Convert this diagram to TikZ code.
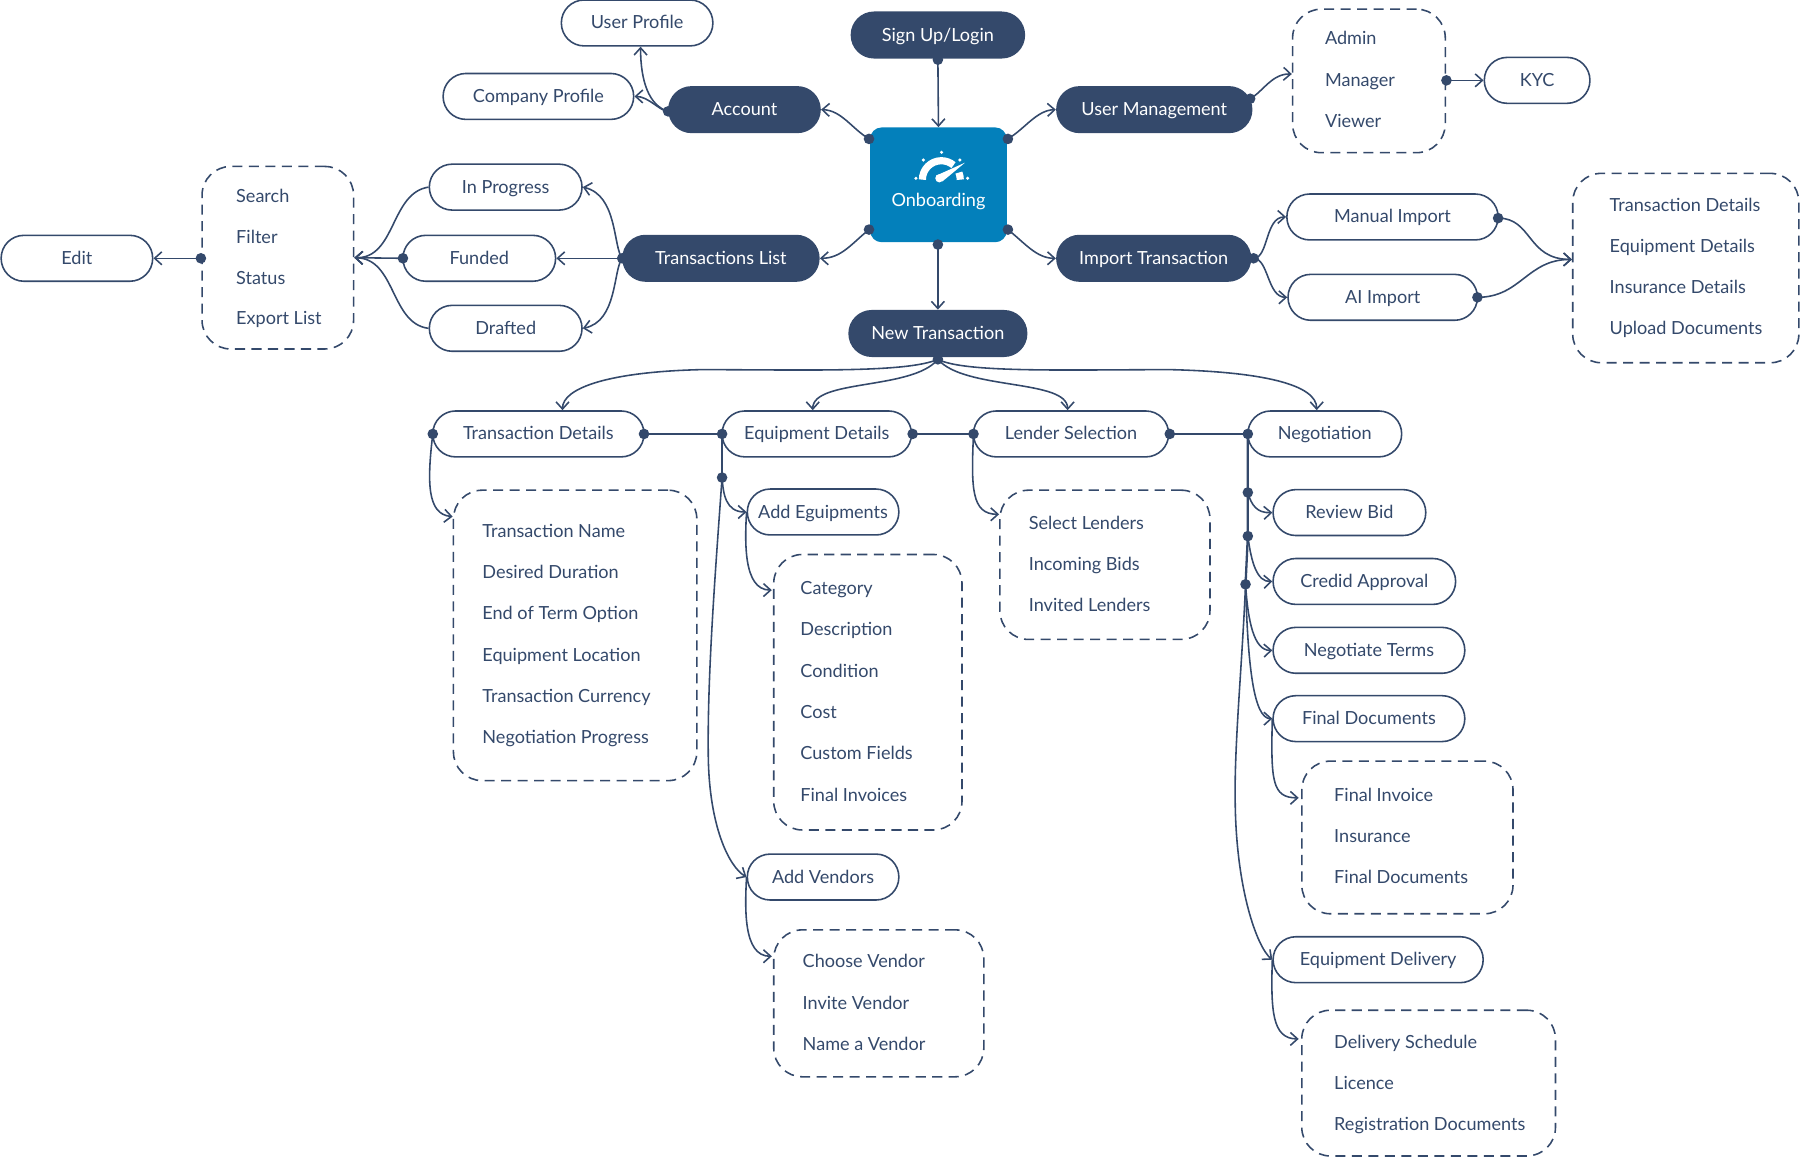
\documentclass[tikz,border=0pt]{standalone}
\usepackage{fontspec}
\setmainfont{Lato}
\usetikzlibrary{arrows.meta}
\definecolor{navy}{HTML}{34496B}
\definecolor{hubblue}{HTML}{0380BB}
\def\u{0.8pt}
\tikzset{
  pilltext/.style={font=\fontsize{12.6}{15}\selectfont,text height=10.4pt,text depth=2pt,inner sep=0pt},
  pill/.style={pilltext,draw=navy,line width=1.1pt,fill=white,rounded corners=15.9pt,minimum height=40*\u,minimum width=#1*\u,text=navy},
  darkpill/.style={pilltext,fill=navy,rounded corners=16.3pt,minimum height=41*\u,minimum width=#1*\u,text=white},
  listbox/.style 2 args={draw=navy,line width=1.1pt,dash pattern=on 7pt off 4.5pt,rounded corners=20pt,minimum width=#1*\u,minimum height=#2*\u,inner sep=0pt},
  item/.style={pilltext,text height=11.6pt,anchor=west,text=navy},
  dot/.style={circle,fill=navy,inner sep=0pt,minimum size=7.4pt},
  flow/.style={draw=navy,line width=1.1pt,-{Straight Barb[length=5pt,width=9pt,line width=1.1pt]}},
  plain/.style={draw=navy,line width=1.1pt},
  trunk/.style={draw=navy,line width=1.6pt}
}
\begin{document}
\begin{tikzpicture}[x=\u,y=-\u]
    \useasboundingbox (0,0) rectangle (1568,1008.7);

    % top part
    \node[darkpill=152] (sign) at (817,30.5) {Sign Up/Login};
    \node[fill=hubblue,rounded corners=8pt,minimum width=119*\u,minimum height=100*\u,inner sep=0pt] (onb) at (817.5,161) {};
    \node[pilltext,text=white] (onbtxt) at (817.5,174.7) {Onboarding};
    \node[darkpill=133] (acct) at (648.5,95.5) {Account};
    \node[darkpill=171] (umgmt) at (1005.5,95.5) {User Management};
    \node[darkpill=172] (tlist) at (628,225) {Transactions List};
    \node[darkpill=170] (imprt) at (1005,225) {Import Transaction};
    \node[darkpill=156] (newtx) at (817,290.5) {New Transaction};

    \node[pill=132] (usrprof) at (555,20) {User Profile};
    \node[pill=166] (comprof) at (469,84) {Company Profile};
    \node[pill=92] (kyc) at (1339,70) {KYC};
    \node[pill=133] (inprog) at (440.5,163) {In Progress};
    \node[pill=133] (funded) at (417.5,225) {Funded};
    \node[pill=133] (drafted) at (440.5,286) {Drafted};
    \node[pill=132] (edit) at (67,225) {Edit};
    \node[pill=184] (manual) at (1213,189) {Manual Import};
    \node[pill=165] (aiimp) at (1204.5,259) {AI Import};

    % gauge icon
    \draw[white,line width=5pt] (803.5,156.5) arc (-180:-50:16.5);
    \draw[white,line width=5pt] (836.5,156.5) arc (0:-22:16.5);
    \fill[white] (815.5,153) -- (840.6,141.7) -- (821,158) -- cycle;
    \fill[white] (818.3,155.3) circle (3.6);
    \foreach \x/\y in {820.2/132.7,804.3/139.4,836.2/139.4,797.9/155.3,842.9/155.3} {
        \fill[white] (\x,\y) circle (1.5);
    }

    % dashed lists
    \node[listbox={133}{125}] (usrbox) at (1192.5,70.5) {};
    \foreach \t [count=\k] in {Admin,Manager,Viewer} {
        \node[item] (usr\k) at (1154,33+36*\k-36) {\t};
    }
    \node[listbox={132}{159}] (srcbox) at (242,224.5) {};
    \foreach \t [count=\k] in {Search,Filter,Status,Export List} {
        \node[item] (src\k) at (205.5,170+35.7*\k-35.7) {\t};
    }
    \node[listbox={197}{165}] (impbox) at (1468.5,233.5) {};
    \foreach \t [count=\k] in {Transaction Details,Equipment Details,Insurance Details,Upload Documents} {
        \node[item] (imp\k) at (1402,178+35.8*\k-35.8) {\t};
    }

    % transaction row
    \node[pill=184] (txd) at (469,378) {Transaction Details};
    \node[pill=165] (eqd) at (711.5,378) {Equipment Details};
    \node[pill=170] (lnd) at (933,378) {Lender Selection};
    \node[pill=134] (neg) at (1154,378) {Negotiation};

    \node[pill=132] (addeq) at (717,446) {Add Eguipments};
    \node[pill=132] (addven) at (717,764) {Add Vendors};
    \node[pill=133] (review) at (1175.5,446.5) {Review Bid};
    \node[pill=159] (credid) at (1188.5,506.5) {Credid Approval};
    \node[pill=167] (negot) at (1192.5,566.5) {Negotiate Terms};
    \node[pill=167] (fdoc) at (1192.5,626) {Final Documents};
    \node[pill=183] (edel) at (1200.5,836) {Equipment Delivery};

    \node[listbox={212}{253}] (txbox) at (501,553.5) {};
    \foreach \t [count=\k] in {Transaction Name,Desired Duration,End of Term Option,Equipment Location,Transaction Currency,Negotiation Progress} {
        \node[item] (tx\k) at (420,462+36*\k-36) {\t};
    }
    \node[listbox={164}{240}] (catbox) at (756,603) {};
    \foreach \t [count=\k] in {Category,Description,Condition,Cost,Custom Fields,Final Invoices} {
        \node[item] (cat\k) at (697,512+36*\k-36) {\t};
    }
    \node[listbox={183}{128}] (venbox) at (765.5,874) {};
    \foreach \t [count=\k] in {Choose Vendor,Invite Vendor,Name a Vendor} {
        \node[item] (ven\k) at (699,837+36*\k-36) {\t};
    }
    \node[listbox={183}{130}] (lndbox) at (962.5,492) {};
    \foreach \t [count=\k] in {Select Lenders,Incoming Bids,Invited Lenders} {
        \node[item] (len\k) at (896,455+36*\k-36) {\t};
    }
    \node[listbox={184}{133}] (finbox) at (1226,729.5) {};
    \foreach \t [count=\k] in {Final Invoice,Insurance,Final Documents} {
        \node[item] (fin\k) at (1162,692+36*\k-36) {\t};
    }
    \node[listbox={221}{127}] (delbox) at (1244.5,943.5) {};
    \foreach \t [count=\k] in {Delivery Schedule,Licence,Registration Documents} {
        \node[item] (del\k) at (1162,907+36*\k-36) {\t};
    }

    % dots
    \node[dot] (dsign) at (817,52) {};
    \node[dot] (donw) at (757,121) {};
    \node[dot] (done) at (878,121) {};
    \node[dot] (dosw) at (757,200) {};
    \node[dot] (dose) at (878,200) {};
    \node[dot] (dos) at (817,213) {};
    \node[dot] (dacct) at (582,97) {};
    \node[dot] (dumgmt) at (1089,86) {};
    \node[dot] (dusr) at (1260,70) {};
    \node[dot] (dimp) at (1092,225) {};
    \node[dot] (dman) at (1305,190) {};
    \node[dot] (dai) at (1287,259) {};
    \node[dot] (dtl) at (542,225) {};
    \node[dot] (dfun) at (351,225) {};
    \node[dot] (dsrc) at (175,225) {};
    \node[dot] (dnew) at (817,313) {};
    \node[dot] (dtxw) at (377,378) {};
    \node[dot] (dtxe) at (561,378) {};
    \node[dot] (deqw) at (629,378) {};
    \node[dot] (deqe) at (795,378) {};
    \node[dot] (deqb) at (629,416) {};
    \node[dot] (dlnw) at (848,378) {};
    \node[dot] (dlne) at (1019,378) {};
    \node[dot] (dneg) at (1087,378) {};
    \node[dot] (dr1) at (1087,429) {};
    \node[dot] (dr2) at (1087,467) {};
    \node[dot] (dr3) at (1085,509) {};

    % connectors, top
    \draw[flow] (dsign.center) -- (onb.north);
    \draw[flow] (dos.center) -- (newtx.north);
    \draw[flow] (donw.center) .. controls (742,112) and (733,96) .. (acct.east);
    \draw[flow] (done.center) .. controls (893,112) and (903,96) .. (umgmt.west);
    \draw[flow] (dosw.center) .. controls (742,212) and (733,225) .. (tlist.east);
    \draw[flow] (dose.center) .. controls (893,212) and (903,225) .. (imprt.west);
    \draw[flow] (dacct.center) .. controls (565,92) and (558,70) .. ([shift={(3,0)}]usrprof.south);
    \draw[flow] (dacct.center) .. controls (575,97) and (565,84) .. (comprof.east);
    \draw[flow] (dumgmt.center) .. controls (1100,80) and (1108,64) .. ([shift={(0,-6)}]usrbox.west);
    \draw[flow] (dusr.center) -- (kyc.west);
    \draw[flow] (dimp.center) .. controls (1105,225) and (1102,189) .. (manual.west);
    \draw[flow] (dimp.center) .. controls (1105,225) and (1104,259) .. (aiimp.west);
    \draw[flow] (dman.center) .. controls (1335,190) and (1330,226) .. ([shift={(0,-7.5)}]impbox.west);
    \draw[flow] (dai.center) .. controls (1325,259) and (1330,226) .. ([shift={(0,-7.5)}]impbox.west);
    \draw[flow] (dtl.center) .. controls (534,215) and (538,170) .. (inprog.east);
    \draw[flow] (dtl.center) -- (funded.east);
    \draw[flow] (dtl.center) .. controls (534,235) and (538,280) .. (drafted.east);
    \draw[flow] (dfun.center) -- (srcbox.east);
    \draw[flow] (inprog.west) .. controls (340,168) and (345,225) .. (srcbox.east);
    \draw[flow] (drafted.west) .. controls (340,282) and (345,225) .. (srcbox.east);
    \draw[flow] (dsrc.center) -- (edit.east);

    % connectors, new transaction
    \draw[flow] (dnew.center) .. controls (790,325) and (700,322) .. (610,322) .. controls (530,324) and (490,338) .. ([shift={(21,0)}]txd.north);
    \draw[flow] (dnew.center) .. controls (795,340) and (708,330) .. ([shift={(-3.5,0)}]eqd.north);
    \draw[flow] (dnew.center) .. controls (840,340) and (930,330) .. ([shift={(-3,0)}]lnd.north);
    \draw[flow] (dnew.center) .. controls (840,325) and (930,322) .. (1020,322) .. controls (1100,324) and (1147,335) .. ([shift={(-7,0)}]neg.north);
    \draw[plain] (dtxe.center) -- (deqw.center);
    \draw[plain] (deqe.center) -- (dlnw.center);
    \draw[plain] (dlne.center) -- (dneg.center);
    \draw[flow] (dtxw.center) .. controls (372,420) and (372,448) .. ([shift={(0,-103.5)}]txbox.west);

    % equipment branch
    \draw[trunk] (deqw.center) -- (deqb.center);
    \draw[flow] (deqb.center) .. controls (630,430) and (632,446) .. (addeq.west);
    \draw[flow] (deqb.center) .. controls (623,500) and (616,590) .. (617,660) .. controls (618,720) and (635,755) .. (addven.west);
    \draw[flow] (addeq.west) .. controls (649,470) and (647,514) .. ([shift={(-1,-89)}]catbox.west);
    \draw[flow] (addven.west) .. controls (649,790) and (647,833) .. ([shift={(-1,-41)}]venbox.west);
    \draw[flow] (dlnw.center) .. controls (846,425) and (846,448) .. ([shift={(0,-44)}]lndbox.west);

    % negotiation branch
    \draw[trunk] (dneg.center) -- (dr1.center) -- (dr2.center) -- (dr3.center);
    \draw[flow] (dr1.center) .. controls (1090,440) and (1095,447) .. (review.west);
    \draw[flow] (dr2.center) .. controls (1090,490) and (1095,507) .. (credid.west);
    \draw[flow] (dr3.center) .. controls (1087,540) and (1092,567) .. (negot.west);
    \draw[flow] (dr3.center) .. controls (1087,580) and (1092,626) .. (fdoc.west);
    \draw[flow] (dr3.center) .. controls (1082,580) and (1075,650) .. (1076,700) .. controls (1077,775) and (1095,825) .. (edel.west);
    \draw[flow] (fdoc.west) .. controls (1107,680) and (1108,695) .. ([shift={(-2,-34.5)}]finbox.west);
    \draw[flow] (edel.west) .. controls (1107,880) and (1108,905) .. ([shift={(-2,-38.5)}]delbox.west);
\end{tikzpicture}
\end{document}
